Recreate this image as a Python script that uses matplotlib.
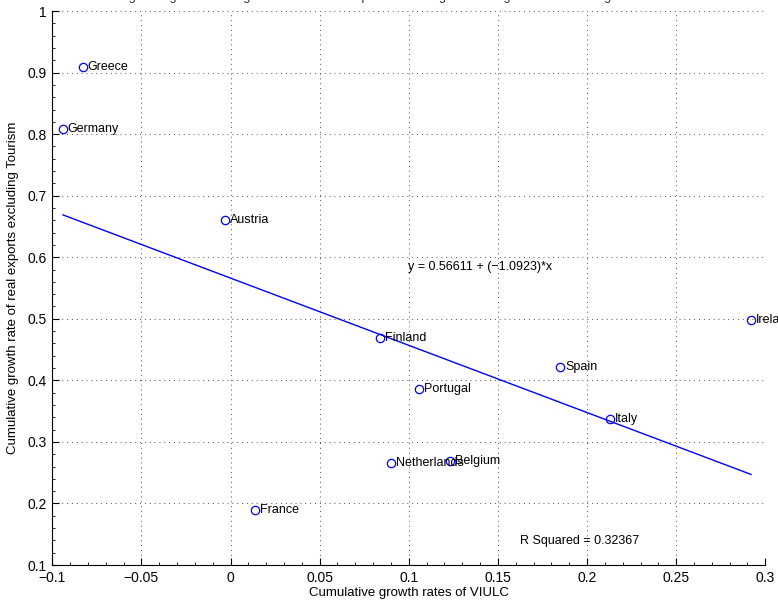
import matplotlib
matplotlib.use("Agg")
import matplotlib.pyplot as plt
from matplotlib.ticker import AutoMinorLocator
import numpy as np

plt.rcParams['font.family'] = ['Liberation Sans', 'DejaVu Sans']

countries = ['Greece', 'Germany', 'Austria', 'Finland', 'Ireland', 'Spain',
             'Portugal', 'Italy', 'Netherlands', 'Belgium', 'France']
viulc = [-0.083, -0.094, -0.003, 0.084, 0.292, 0.185, 0.106, 0.213, 0.090, 0.123, 0.014]
exports = [0.909, 0.808, 0.660, 0.469, 0.498, 0.421, 0.386, 0.337, 0.265, 0.269, 0.190]

intercept = 0.56611
slope = -1.0923
r_squared = 0.32367

fig = plt.figure(figsize=(7.78, 6.03), dpi=100)
ax = fig.add_axes([0.0672, 0.063, 0.9165, 0.9187])

ax.plot(viulc, exports, 'o', mfc='none', mec='b', ms=6, mew=0.9)
for name, x, y in zip(countries, viulc, exports):
    ax.annotate(name, (x, y), xytext=(3.5, 0), textcoords='offset points',
                va='center', ha='left', fontsize=9, annotation_clip=False)

xs = np.array([min(viulc), max(viulc)])
ax.plot(xs, intercept + slope * xs, 'b-', lw=1)

ax.text(0.0993, 0.584, 'y = 0.56611 + (\u22121.0923)*x', fontsize=9, va='center')
ax.text(0.1626, 0.139, 'R Squared = %.5f' % r_squared, fontsize=9, va='center')

ax.set_xlim(-0.1, 0.3)
ax.set_ylim(0.1, 1)
ax.set_xticks(np.arange(-0.1, 0.301, 0.05))
ax.set_yticks(np.arange(0.1, 1.001, 0.1))
ax.set_xticklabels(['\u22120.1', '\u22120.05', '0', '0.05', '0.1', '0.15', '0.2', '0.25', '0.3'])
ax.set_yticklabels(['0.1', '0.2', '0.3', '0.4', '0.5', '0.6', '0.7', '0.8', '0.9', '1'])
ax.xaxis.set_minor_locator(AutoMinorLocator(5))
ax.yaxis.set_minor_locator(AutoMinorLocator(5))
ax.tick_params(which='both', direction='in', labelsize=10)
ax.tick_params(axis='x', which='major', pad=4)
ax.tick_params(axis='y', which='major', pad=4)
ax.tick_params(which='major', length=5)
ax.tick_params(which='minor', length=2.5)
ax.spines['top'].set_visible(False)
ax.spines['right'].set_visible(False)
ax.grid(True, linestyle=(0, (1, 4)), color='0.3', lw=0.7)

ax.set_xlabel('Cumulative growth rates of VIULC', fontsize=9.5, labelpad=2)
ax.set_ylabel('Cumulative growth rate of real exports excluding Tourism', fontsize=9.5, labelpad=6)

# title sits mostly above the canvas, only the descenders show
fig.text(0.54, 1.0055, 'Regressing cumulative growth rate of real exports excluding Tourism against cumulative growth rates of VIULC',
         ha='center', va='center', fontsize=9, color='0.2')

fig.savefig('out.png', dpi=100)
